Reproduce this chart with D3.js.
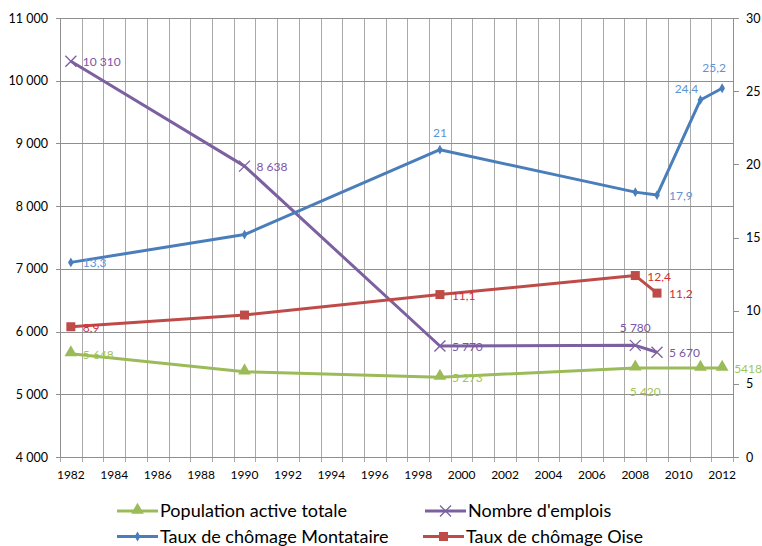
<!DOCTYPE html>
<html>
<head>
<meta charset="utf-8">
<script src="https://cdn.jsdelivr.net/npm/d3@7"></script>
<style>
  body { margin: 0; background: #fff; }
  text { font-family: Lato, "Open Sans", sans-serif; }
</style>
</head>
<body>
<svg width="762" height="546"></svg>
<script>
// categories
const years = d3.range(1982, 2013);
const tickYears = years.filter(y => y % 2 === 0);
const leftTicks = [4000, 5000, 6000, 7000, 8000, 9000, 10000, 11000];
const rightTicks = [0, 5, 10, 15, 20, 25, 30];

// series
const popYears = [1982, 1990, 1999, 2008, 2011, 2012];
const popValues = [5648, 5360, 5273, 5420, 5418, 5418];
const popLabels = ["5 648", null, "5 273", "5 420", null, "5418"];

const jobYears = [1982, 1990, 1999, 2008, 2009];
const jobValues = [10310, 8638, 5770, 5780, 5670];
const jobLabels = ["10 310", "8 638", "5 770", "5 780", "5 670"];

const montYears = [1982, 1990, 1999, 2008, 2009, 2011, 2012];
const montValues = [13.3, 15.2, 21, 18.1, 17.9, 24.4, 25.2];
const montLabels = ["13,3", null, "21", null, "17,9", "24,4", "25,2"];

const oiseYears = [1982, 1990, 1999, 2008, 2009];
const oiseValues = [8.9, 9.7, 11.1, 12.4, 11.2];
const oiseLabels = ["8,9", null, "11,1", "12,4", "11,2"];

// where each data label sits relative to its point
const popLabelPos = ["right", null, "right", "below", null, "right"];
const jobLabelPos = ["right", "right", "right", "above", "right"];
const montLabelPos = ["right", null, "above", null, "right", "aboveLeft", "aboveLeft2"];
const oiseLabelPos = ["right", null, "right", "right", "right"];

const placements = {
  right: [12, 5, "start"],
  above: [0, -13, "middle"],
  below: [10, 28, "middle"],
  aboveLeft: [-14, -7, "middle"],
  aboveLeft2: [-8, -16, "middle"]
};

const svg = d3.select("svg");
const m = { left: 60, right: 733, top: 18, bottom: 457 };

const x = d3.scaleBand().domain(years).range([m.left, m.right]).padding(0);
const cx = y => x(y) + x.bandwidth() / 2;
const yL = d3.scaleLinear().domain([4000, 11000]).range([m.bottom, m.top]);
const yR = d3.scaleLinear().domain([0, 30]).range([m.bottom, m.top]);

const fr = d3.formatLocale({ decimal: ",", thousands: " ", grouping: [3], currency: ["", "€"] });
const fmtL = fr.format(",d");

// vertical grid (band edges)
const edges = years.map(y => x(y)).concat([m.right]);
svg.append("g").selectAll("line").data(edges).join("line")
  .attr("x1", d => Math.round(d) + 0.5).attr("x2", d => Math.round(d) + 0.5)
  .attr("y1", m.top).attr("y2", m.bottom + 5)
  .attr("stroke", "#a9a9a9");

// horizontal grid
svg.append("g").selectAll("line").data(leftTicks).join("line")
  .attr("x1", m.left - 4).attr("x2", m.right)
  .attr("y1", d => Math.round(yL(d)) + 0.5).attr("y2", d => Math.round(yL(d)) + 0.5)
  .attr("stroke", "#8f8f8f");

// axes
svg.append("line").attr("x1", m.left + 0.5).attr("x2", m.left + 0.5).attr("y1", m.top).attr("y2", m.bottom)
  .attr("stroke", "#8f8f8f");
svg.append("line").attr("x1", m.right + 0.5).attr("x2", m.right + 0.5).attr("y1", m.top).attr("y2", m.bottom)
  .attr("stroke", "#8f8f8f");

svg.append("g").selectAll("line").data(rightTicks).join("line")
  .attr("x1", m.right).attr("x2", m.right + 6)
  .attr("y1", d => Math.round(yR(d)) + 0.5).attr("y2", d => Math.round(yR(d)) + 0.5)
  .attr("stroke", "#8f8f8f");

svg.append("g").selectAll("text").data(leftTicks).join("text")
  .attr("x", 48).attr("y", d => yL(d) + 4.5)
  .attr("text-anchor", "end").attr("font-size", 12.5).attr("fill", "#000")
  .text(d => fmtL(d));

svg.append("g").selectAll("text").data(rightTicks).join("text")
  .attr("x", 746).attr("y", d => yR(d) + 4.5)
  .attr("font-size", 12.5).attr("fill", "#000")
  .text(d => d);

svg.append("g").selectAll("text").data(tickYears).join("text")
  .attr("x", d => cx(d)).attr("y", 479)
  .attr("text-anchor", "middle").attr("font-size", 12).attr("fill", "#000")
  .text(d => d);

// series
const series = [
  { yrs: popYears, vals: popValues, labels: popLabels, pos: popLabelPos, scale: yL,
    color: "#9bbb59", labelColor: "#9fc55a", marker: "triangle" },
  { yrs: jobYears, vals: jobValues, labels: jobLabels, pos: jobLabelPos, scale: yL,
    color: "#7d60a0", labelColor: "#7b55a8", marker: "x" },
  { yrs: montYears, vals: montValues, labels: montLabels, pos: montLabelPos, scale: yR,
    color: "#4a7ebb", labelColor: "#5f93d3", marker: "diamond" },
  { yrs: oiseYears, vals: oiseValues, labels: oiseLabels, pos: oiseLabelPos, scale: yR,
    color: "#be4b48", labelColor: "#d22f2f", marker: "square" }
];

function drawMarker(g, type, color) {
  if (type === "triangle") {
    g.append("path").attr("d", d3.symbol(d3.symbolTriangle, 70)()).attr("fill", color)
      .attr("transform", "translate(0,-1)");
  } else if (type === "x") {
    g.append("path").attr("d", "M-5.5,-5.5L5.5,5.5M-5.5,5.5L5.5,-5.5").attr("stroke", color).attr("stroke-width", 1.3);
  } else if (type === "diamond") {
    g.append("path").attr("d", d3.symbol(d3.symbolDiamond, 28)()).attr("fill", color);
  } else {
    g.append("rect").attr("x", -4.5).attr("y", -4.5).attr("width", 9).attr("height", 9).attr("fill", color);
  }
}

const line = d3.line();

series.forEach(s => {
  const pts = s.yrs.map((yr, i) => [cx(yr), s.scale(s.vals[i])]);
  svg.append("path").attr("d", line(pts))
    .attr("fill", "none").attr("stroke", s.color).attr("stroke-width", 3)
    .attr("stroke-linejoin", "round");
  pts.forEach(p => drawMarker(svg.append("g").attr("transform", `translate(${p[0]},${p[1]})`), s.marker, s.color));
});

series.forEach(s => {
  s.yrs.forEach((yr, i) => {
    if (!s.labels[i]) return;
    const [dx, dy, anchor] = placements[s.pos[i]];
    svg.append("text")
      .attr("x", cx(yr) + dx).attr("y", s.scale(s.vals[i]) + dy)
      .attr("text-anchor", anchor).attr("font-size", 12).attr("fill", s.labelColor)
      .text(s.labels[i]);
  });
});

// legend
const legendItems = [
  { name: "Population active totale", color: "#9bbb59", marker: "triangle", lx: 117, ly: 511 },
  { name: "Nombre d'emplois", color: "#7d60a0", marker: "x", lx: 425, ly: 511 },
  { name: "Taux de chômage Montataire", color: "#4a7ebb", marker: "diamond", lx: 117, ly: 536.5 },
  { name: "Taux de chômage Oise", color: "#be4b48", marker: "square", lx: 423, ly: 536.5 }
];
legendItems.forEach(d => {
  const g = svg.append("g").attr("transform", `translate(${d.lx},${d.ly})`);
  g.append("line").attr("x1", 0).attr("x2", 41).attr("stroke", d.color).attr("stroke-width", 3);
  drawMarker(g.append("g").attr("transform", "translate(20.5,0)"), d.marker, d.color);
  g.append("text").attr("x", 43).attr("y", 6).attr("font-size", 18).attr("fill", "#000").text(d.name);
});
</script>
</body>
</html>
